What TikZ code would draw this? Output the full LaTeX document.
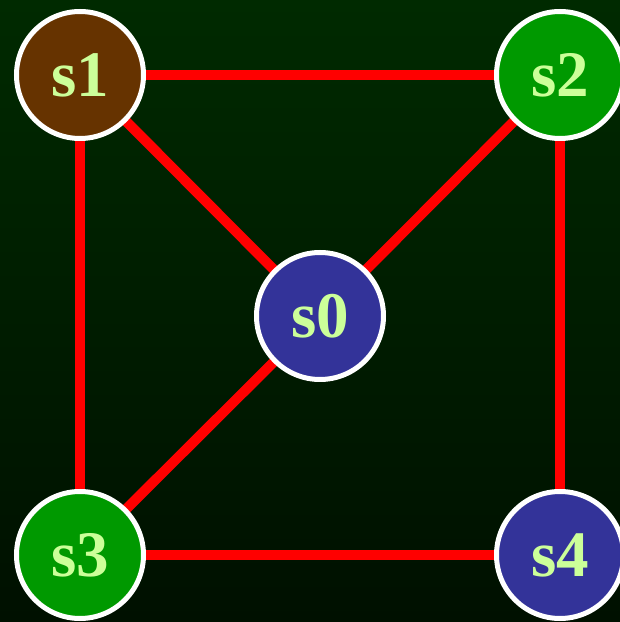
\documentclass[tikz,border=0pt]{standalone}
\usepackage{fontspec}
\setmainfont{Liberation Serif}
\usetikzlibrary{backgrounds}
\definecolor{bgtop}{RGB}{0,42,0}
\definecolor{bgbottom}{RGB}{0,16,0}
\definecolor{labelgreen}{RGB}{204,255,153}
\definecolor{brownfill}{RGB}{102,51,0}
\definecolor{greenfill}{RGB}{0,153,0}
\definecolor{bluefill}{RGB}{51,51,153}

\begin{document}
\begin{tikzpicture}[
  x=1pt, y=1pt,
  state/.style={circle, draw=white, line width=5pt, minimum size=127pt,
                inner sep=0pt, text=labelgreen,
                font=\fontsize{65}{65}\selectfont\bfseries},
  link/.style={draw=red, line width=10pt},
]
\useasboundingbox (0,0) rectangle (620,622);

%% states
\node[state, fill=brownfill] (s1) at (80,547) {s1};
\node[state, fill=greenfill] (s2) at (560,547) {s2};
\node[state, fill=bluefill]  (s0) at (320,306) {s0};
\node[state, fill=greenfill] (s3) at (80,67)   {s3};
\node[state, fill=bluefill]  (s4) at (560,67)  {s4};

\begin{pgfonlayer}{background}
  \shade[top color=bgtop, bottom color=bgbottom] (0,0) rectangle (620,622);
  \draw[link] (s1.center) -- (s2.center);
  \draw[link] (s1.center) -- (s3.center);
  \draw[link] (s2.center) -- (s4.center);
  \draw[link] (s3.center) -- (s4.center);
  \draw[link] (s1.center) -- (s0.center);
  \draw[link] (s2.center) -- (s0.center);
  \draw[link] (s3.center) -- (s0.center);
\end{pgfonlayer}
\end{tikzpicture}
\end{document}
